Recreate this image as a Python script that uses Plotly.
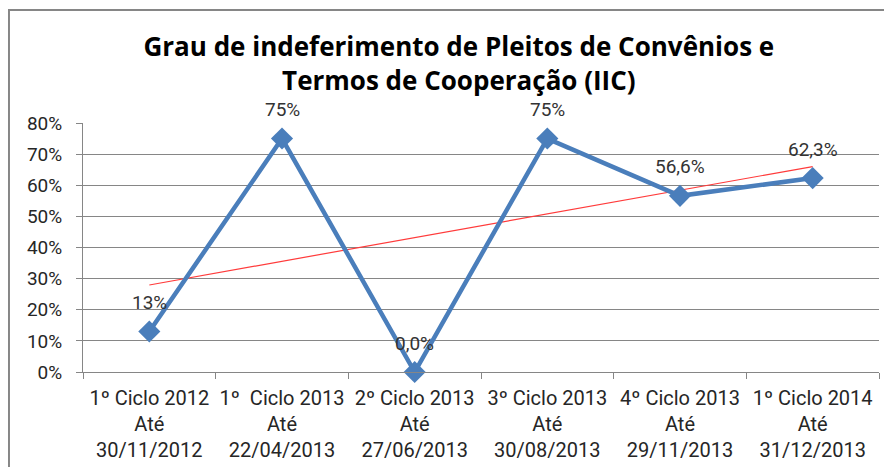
import numpy as np
import plotly.graph_objects as go

categories = [
    "1º Ciclo 2012<br>Até<br>30/11/2012",
    "1º  Ciclo 2013<br>Até<br>22/04/2013",
    "2º Ciclo 2013<br>Até<br>27/06/2013",
    "3º Ciclo 2013<br>Até<br>30/08/2013",
    "4º Ciclo 2013<br>Até<br>29/11/2013",
    "1º Ciclo 2014<br>Até<br>31/12/2013",
]
values = [0.13, 0.75, 0.0, 0.75, 0.566, 0.623]
value_labels = ["13%", "75%", "0,0%", "75%", "56,6%", "62,3%"]
y_ticks = [0, 0.1, 0.2, 0.3, 0.4, 0.5, 0.6, 0.7, 0.8]
y_tick_labels = ["0%", "10%", "20%", "30%", "40%", "50%", "60%", "70%", "80%"]

FONT = "Roboto, Open Sans, sans-serif"

idx = np.arange(1, len(values) + 1)
slope, intercept = np.polyfit(idx, values, 1)
trend = slope * idx + intercept

fig = go.Figure()
fig.add_trace(go.Scatter(
    x=categories, y=trend, mode="lines",
    line=dict(color="#FF3B3B", width=1.2),
    hoverinfo="skip", showlegend=False,
))
fig.add_trace(go.Scatter(
    x=categories, y=values, mode="lines+markers",
    line=dict(color="#4A7EBB", width=4.5),
    marker=dict(symbol="diamond", size=17, color="#4A7EBB"),
    showlegend=False, cliponaxis=False,
))

annotations = [
    dict(x=c, y=v, text=t, showarrow=False, xref="x", yref="y",
         yshift=29, yanchor="middle",
         font=dict(family=FONT, size=19, color="#333333"))
    for c, v, t in zip(categories, values, value_labels)
]

fig.update_layout(
    width=884, height=459,
    margin=dict(l=75, r=13, t=115, b=95, autoexpand=False),
    paper_bgcolor="white", plot_bgcolor="white",
    font=dict(family=FONT, color="#262626"),
    title=dict(
        text="<b>Grau de indeferimento de Pleitos de Convênios e<br>Termos de Cooperação (IIC)</b>",
        x=0.51, xanchor="center", y=0.895, yanchor="top",
        font=dict(family="Open Sans, sans-serif", size=26, color="#000000"),
    ),
    xaxis=dict(
        type="category", showgrid=False, showline=True, linecolor="#868686", linewidth=1,
        ticks="outside", tickson="boundaries", ticklen=6, tickcolor="#868686",
        tickfont=dict(family=FONT, size=20, color="#262626"),
        tickangle=0, automargin=False,
        ticklabelstandoff=8,
        range=[-0.5, len(categories) - 0.5],
    ),
    yaxis=dict(
        range=[0, 0.8], tickvals=y_ticks, ticktext=y_tick_labels,
        showgrid=True, gridcolor="#868686", gridwidth=1,
        showline=True, linecolor="#868686", linewidth=1,
        ticks="outside", ticklen=6, tickcolor="#868686",
        tickfont=dict(family=FONT, size=19, color="#262626"),
        ticklabelstandoff=10, automargin=False,
        zeroline=False,
    ),
    annotations=annotations,
    shapes=[dict(
        type="rect", xref="paper", yref="paper",
        x0=-0.093, x1=1.03, y0=-0.42, y1=1.454,
        line=dict(color="#868686", width=2), layer="below",
    )],
)

fig.write_html("out.html")
